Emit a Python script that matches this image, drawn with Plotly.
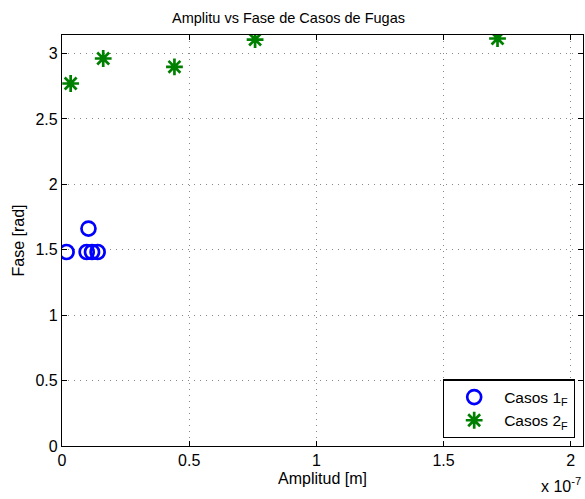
import plotly.graph_objects as go

amp1 = [0.018e-7, 0.104e-7, 0.097e-7, 0.118e-7, 0.140e-7]
fase1 = [1.483, 1.662, 1.483, 1.483, 1.483]
amp2 = [0.034e-7, 0.162e-7, 0.442e-7, 0.759e-7, 1.712e-7]
fase2 = [2.771, 2.962, 2.898, 3.107, 3.115]
xticks = [0, 0.5e-7, 1e-7, 1.5e-7, 2e-7]
xticklabels = ["0", "0.5", "1", "1.5", "2"]
yticks = [0, 0.5, 1, 1.5, 2, 2.5, 3]
yticklabels = ["0", "0.5", "1", "1.5", "2", "2.5", "3"]

FONT = "Liberation Sans, Arial, Helvetica"

fig = go.Figure()
fig.add_trace(go.Scatter(
    x=amp1, y=fase1, mode="markers", name="Casos 1<sub>F</sub>",
    marker=dict(symbol="circle-open", size=14, color="#0000ff",
                line=dict(color="#0000ff", width=2.7)),
))
fig.add_trace(go.Scatter(
    x=amp2, y=fase2, mode="markers", name="Casos 2<sub>F</sub>",
    marker=dict(symbol="asterisk-open", size=14, color="#008000",
                line=dict(color="#008000", width=2.7)),
))

axis_common = dict(
    showline=True, linecolor="black", linewidth=1.2, mirror="ticks",
    ticks="inside", ticklen=5, tickcolor="black", tickwidth=1,
    showgrid=True, gridcolor="#888888", griddash="1px,5px", gridwidth=1,
    zeroline=False,
    tickfont=dict(family=FONT, size=16, color="black"),
)
fig.update_xaxes(range=[0, 2.048e-7], tickvals=xticks, ticktext=xticklabels,
                 title=dict(text="Amplitud [m]", standoff=4,
                            font=dict(family=FONT, size=16, color="black")),
                 **axis_common)
fig.update_yaxes(range=[0, 3.1416], tickvals=yticks, ticktext=yticklabels,
                 title=dict(text="Fase [rad]", standoff=6,
                            font=dict(family=FONT, size=16, color="black")),
                 **axis_common)

fig.update_layout(
    width=585, height=499,
    margin=dict(l=62, r=2, t=35, b=53),
    paper_bgcolor="white", plot_bgcolor="white",
    title=dict(text="Amplitu vs Fase de Casos de Fugas", x=288.5 / 585, xanchor="center",
               y=1 - 17.5 / 499, yanchor="middle",
               font=dict(family=FONT, size=14.5, color="black")),
    legend=dict(x=0.9846, y=0.0187, xanchor="right", yanchor="bottom",
                bordercolor="black", borderwidth=1.2, bgcolor="white",
                font=dict(family=FONT, size=15.5, color="black"),
                itemwidth=50, tracegroupgap=0),
    showlegend=True,
    annotations=[dict(text="x 10<sup>-7</sup>", xref="paper", yref="paper",
                      x=1.0, y=-0.095, xanchor="right", yanchor="middle",
                      showarrow=False,
                      font=dict(family=FONT, size=16, color="black"))],
)

fig.write_html("out.html", config={"displayModeBar": False},
               post_script="document.body.style.margin='0';")
